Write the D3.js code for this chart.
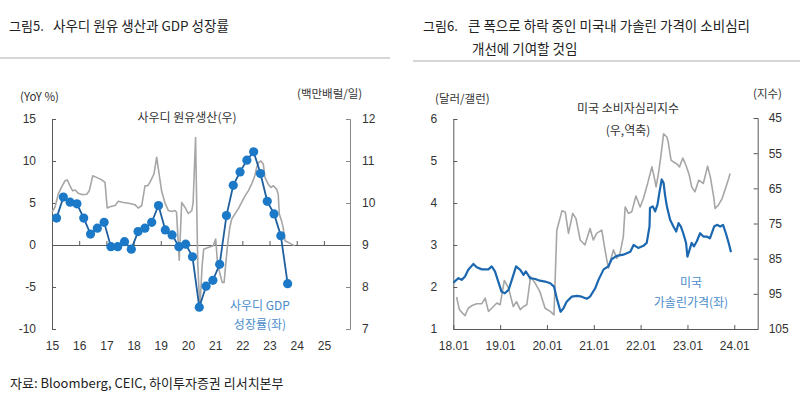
<!DOCTYPE html>
<html>
<head>
<meta charset="utf-8">
<script src="https://cdn.jsdelivr.net/npm/d3@7"></script>
<style>
  html, body { margin: 0; padding: 0; background: #fff; }
  svg { display: block; font-family: "Noto Sans CJK KR", "Noto Sans", sans-serif; }
  .tick text { fill: #333; font-size: 12px; }
</style>
</head>
<body>
<svg id="chart" width="800" height="397"></svg>
<script>
// ─── Fig 5: Saudi GDP growth (quarterly, left) vs crude production (right) ────
const gdpQuarters = [
  "2015Q1","2015Q2","2015Q3","2015Q4","2016Q1","2016Q2","2016Q3","2016Q4",
  "2017Q1","2017Q2","2017Q3","2017Q4","2018Q1","2018Q2","2018Q3","2018Q4",
  "2019Q1","2019Q2","2019Q3","2019Q4","2020Q1","2020Q2","2020Q3","2020Q4",
  "2021Q1","2021Q2","2021Q3","2021Q4","2022Q1","2022Q2","2022Q3","2022Q4",
  "2023Q1","2023Q2","2023Q3"
];
const gdpGrowth = [
  3.2, 5.7, 5.1, 4.9, 3.2, 1.3, 2.0, 2.7,
  -0.2, -0.2, 0.4, -0.5, 1.6, 2.0, 2.7, 4.7,
  1.8, 1.2, -0.2, 0.1, -1.4, -7.4, -4.9, -4.2,
  -2.3, 3.5, 7.1, 8.7, 10.1, 11.1, 8.5, 5.2,
  3.7, 1.1, -4.6
];

// crude production, million bbl/day (time in fractional years)
const prodTime = [
  2015.00, 2015.11, 2015.23, 2015.36, 2015.48, 2015.56, 2015.66, 2015.76, 2015.85, 2015.97,
  2016.09, 2016.28, 2016.37, 2016.50, 2016.64, 2016.83, 2016.95, 2017.03, 2017.13, 2017.32,
  2017.44, 2017.62, 2017.87, 2018.05, 2018.17, 2018.30, 2018.42, 2018.52, 2018.60, 2018.75,
  2018.85, 2018.94, 2019.03, 2019.15, 2019.28, 2019.40, 2019.52, 2019.58, 2019.68, 2019.77,
  2019.89, 2020.01, 2020.14, 2020.19, 2020.28, 2020.36, 2020.44, 2020.52, 2020.58, 2020.69,
  2020.93, 2021.02, 2021.09, 2021.18, 2021.26, 2021.33, 2021.39, 2021.46, 2021.54, 2021.61,
  2021.73, 2021.85, 2021.97, 2022.10, 2022.22, 2022.34, 2022.46, 2022.53, 2022.61, 2022.68,
  2022.77, 2022.83, 2022.95, 2023.05, 2023.14, 2023.26, 2023.32, 2023.36, 2023.44, 2023.50,
  2023.57, 2023.81, 2023.93
];
const prodValue = [
  9.78, 9.90, 10.21, 10.39, 10.53, 10.55, 10.41, 10.29, 10.31, 10.23,
  10.20, 10.21, 10.29, 10.65, 10.61, 10.55, 10.49, 9.88, 9.91, 9.94,
  10.04, 10.01, 9.99, 9.96, 9.88, 9.94, 10.41, 10.41, 10.49, 10.69,
  11.09, 10.69, 10.29, 10.01, 9.82, 9.80, 9.82, 9.78, 8.64, 10.01,
  9.90, 9.75, 9.82, 10.01, 11.56, 8.55, 7.50, 8.50, 8.90, 8.93,
  8.98, 9.14, 8.55, 8.31, 8.11, 8.11, 8.55, 9.02, 9.42, 9.62,
  9.74, 9.86, 10.01, 10.17, 10.29, 10.45, 10.65, 10.85, 10.97, 11.00,
  10.93, 10.61, 10.45, 10.37, 10.41, 10.33, 10.21, 9.74, 9.58, 9.42,
  9.10, 9.02, 8.98
];

const leftYears = [2015, 2016, 2017, 2018, 2019, 2020, 2021, 2022, 2023, 2024, 2025];
const leftTicksL = [-10, -5, 0, 5, 10, 15];
const leftTicksR = [7, 8, 9, 10, 11, 12];

// ─── Fig 6: US gasoline price (left) vs consumer sentiment (right, inverted) ──
const gasTime = [
  2018.00, 2018.11, 2018.18, 2018.25, 2018.32, 2018.43, 2018.50, 2018.61, 2018.75, 2018.82,
  2018.89, 2018.96, 2019.03, 2019.10, 2019.18, 2019.25, 2019.34, 2019.43, 2019.50, 2019.55,
  2019.64, 2019.75, 2019.85, 2019.96, 2020.07, 2020.15, 2020.21, 2020.29, 2020.35, 2020.42,
  2020.53, 2020.64, 2020.74, 2020.85, 2020.92, 2021.03, 2021.10, 2021.21, 2021.31, 2021.38,
  2021.49, 2021.63, 2021.78, 2021.85, 2021.95, 2022.06, 2022.13, 2022.19, 2022.20, 2022.26,
  2022.31, 2022.36, 2022.40, 2022.45, 2022.49, 2022.52, 2022.56, 2022.63, 2022.70, 2022.76,
  2022.81, 2022.86, 2022.91, 2022.97, 2023.00, 2023.09, 2023.14, 2023.20, 2023.27, 2023.34,
  2023.41, 2023.48, 2023.57, 2023.63, 2023.70, 2023.76, 2023.82, 2023.88, 2023.93
];
const gasPrice = [
  2.10, 2.21, 2.17, 2.25, 2.41, 2.55, 2.47, 2.42, 2.42, 2.49,
  2.37, 2.13, 1.89, 1.85, 1.93, 2.17, 2.49, 2.41, 2.29, 2.37,
  2.21, 2.19, 2.15, 2.13, 2.09, 2.01, 1.73, 1.41, 1.49, 1.65,
  1.77, 1.79, 1.77, 1.72, 1.77, 1.97, 2.17, 2.42, 2.49, 2.66,
  2.74, 2.77, 2.84, 3.00, 2.93, 2.98, 3.05, 3.44, 3.88, 3.92,
  3.80, 3.96, 4.24, 4.56, 4.48, 4.20, 3.92, 3.60, 3.44, 3.32,
  3.52, 3.44, 3.28, 3.05, 2.72, 3.05, 2.97, 3.09, 3.28, 3.20,
  3.20, 3.16, 3.44, 3.48, 3.44, 3.48, 3.28, 3.05, 2.83
];

const sentTime = [
  2018.07, 2018.13, 2018.20, 2018.25, 2018.32, 2018.39, 2018.50, 2018.61, 2018.68, 2018.75,
  2018.82, 2018.93, 2019.00, 2019.09, 2019.18, 2019.28, 2019.35, 2019.43, 2019.50, 2019.57,
  2019.65, 2019.75, 2019.85, 2019.96, 2020.07, 2020.15, 2020.21, 2020.32, 2020.39, 2020.46,
  2020.55, 2020.62, 2020.71, 2020.81, 2020.92, 2020.99, 2021.06, 2021.17, 2021.24, 2021.31,
  2021.42, 2021.49, 2021.56, 2021.63, 2021.67, 2021.74, 2021.81, 2021.90, 2021.99, 2022.06,
  2022.15, 2022.24, 2022.29, 2022.33, 2022.38, 2022.43, 2022.49, 2022.56, 2022.59, 2022.65,
  2022.70, 2022.77, 2022.83, 2022.90, 2022.97, 2023.04, 2023.09, 2023.16, 2023.24, 2023.34,
  2023.43, 2023.49, 2023.56, 2023.59, 2023.66, 2023.74, 2023.81, 2023.88, 2023.91
];
const sentIndex = [
  95.9, 99.5, 100.5, 101.2, 99.1, 98.4, 97.8, 97.8, 96.2, 100.0,
  99.1, 97.6, 98.1, 91.2, 93.4, 98.6, 97.2, 99.5, 98.6, 98.1,
  90.1, 92.0, 94.4, 99.1, 100.0, 101.0, 76.9, 71.4, 71.7, 77.8,
  72.1, 73.6, 79.7, 81.1, 76.4, 79.7, 77.8, 76.9, 82.5, 87.7,
  82.5, 84.9, 83.5, 78.8, 70.3, 72.1, 71.7, 67.2, 70.3, 67.9,
  63.6, 58.9, 61.8, 64.6, 60.8, 56.1, 49.5, 50.4, 51.9, 57.0,
  57.5, 58.0, 58.9, 56.4, 58.5, 61.3, 64.6, 66.0, 62.7, 63.6,
  58.7, 61.8, 67.4, 70.7, 69.8, 67.9, 65.1, 62.2, 60.8
];

const rightYears = [2018, 2019, 2020, 2021, 2022, 2023, 2024];
const rightTicksL = [1, 2, 3, 4, 5, 6];
const rightTicksR = [45, 55, 65, 75, 85, 95, 105];

// ─── drawing ─────────────────────────────────────────────────────────────────
const svg = d3.select("#chart");
const GRAY = "#a6a6a6";
const AXIS = "#595959";
const BLUE_LINE = "#1f5f9e";
const BLUE_DOT = "#1b79c7";
const BLUE_TEXT = "#4a8ccb";
const plain = (d) => String(d);

function qTime(q) {
  const yr = +q.slice(0, 4), n = +q.slice(5);
  return yr + (n - 1) / 4 + 1 / 6;
}

function styleAxis(g, color) {
  g.select(".domain").attr("stroke", color);
  g.selectAll(".tick line").attr("stroke", color);
}

// titles + rules
svg.append("text").attr("x", 9).attr("y", 31).attr("font-size", 13).attr("fill", "#222").text("그림5.");
svg.append("text").attr("x", 53).attr("y", 31).attr("font-size", 13.5).attr("fill", "#222").text("사우디 원유 생산과 GDP 성장률");
svg.append("line").attr("x1", 0).attr("x2", 390).attr("y1", 58).attr("y2", 58).attr("stroke", "#c8c8c8").attr("stroke-width", 1.5);

svg.append("text").attr("x", 423).attr("y", 31).attr("font-size", 13).attr("fill", "#222").text("그림6.");
svg.append("text").attr("x", 468).attr("y", 31).attr("font-size", 13.5).attr("fill", "#222").text("큰 폭으로 하락 중인 미국내 가솔린 가격이 소비심리");
svg.append("text").attr("x", 472).attr("y", 54).attr("font-size", 13.5).attr("fill", "#222").text("개선에 기여할 것임");
svg.append("line").attr("x1", 413).attr("x2", 800).attr("y1", 61).attr("y2", 61).attr("stroke", "#c8c8c8").attr("stroke-width", 1.5);

svg.append("text").attr("x", 10).attr("y", 388).attr("font-size", 13).attr("fill", "#222")
  .text("자료: Bloomberg, CEIC, 하이투자증권 리서치본부");

// ── left chart
{
  const x = d3.scaleLinear().domain([2015, 2025.96]).range([52, 350]);
  const yL = d3.scaleLinear().domain([-10, 15]).range([329, 119]);
  const yR = d3.scaleLinear().domain([7, 12]).range([329, 119]);

  const gl = svg.append("g").attr("transform", "translate(52,0)")
    .call(d3.axisLeft(yL).tickValues(leftTicksL).tickFormat(plain).tickSize(-4).tickSizeOuter(-4).tickPadding(16));
  styleAxis(gl, AXIS);

  const gr = svg.append("g").attr("transform", "translate(350,0)")
    .call(d3.axisRight(yR).tickValues(leftTicksR).tickFormat(plain).tickSize(-4).tickSizeOuter(-4).tickPadding(12));
  styleAxis(gr, "#8a8a8a");

  const gx = svg.append("g").attr("transform", `translate(0,${yL(0)})`)
    .call(d3.axisBottom(x).tickValues(leftYears).tickFormat((d) => String(d % 100)).tickSize(-4).tickSizeOuter(0));
  styleAxis(gx, AXIS);
  gx.selectAll(".tick text").attr("y", 329 - yL(0) + 12);

  const prod = prodTime.map((t, i) => ({ t, v: prodValue[i] }));
  svg.append("path").datum(prod).attr("fill", "none").attr("stroke", GRAY).attr("stroke-width", 1.6)
    .attr("stroke-linejoin", "round")
    .attr("d", d3.line().x((d) => x(d.t)).y((d) => yR(d.v)));

  const gdp = gdpQuarters.map((q, i) => ({ t: qTime(q), v: gdpGrowth[i] }));
  svg.append("path").datum(gdp).attr("fill", "none").attr("stroke", BLUE_LINE).attr("stroke-width", 1.8)
    .attr("d", d3.line().x((d) => x(d.t)).y((d) => yL(d.v)));
  svg.append("g").selectAll("circle").data(gdp).join("circle")
    .attr("cx", (d) => x(d.t)).attr("cy", (d) => yL(d.v)).attr("r", 4.6).attr("fill", BLUE_DOT);

  svg.append("text").attr("x", 20).attr("y", 101).attr("font-size", 11.5).attr("fill", "#333").text("(YoY %)");
  svg.append("text").attr("x", 297).attr("y", 98).attr("font-size", 11.5).attr("fill", "#333").text("(백만배럴/일)");
  svg.append("text").attr("x", 187).attr("y", 122).attr("text-anchor", "middle").attr("font-size", 12).attr("fill", "#333").text("사우디 원유생산(우)");
  svg.append("text").attr("x", 260).attr("y", 310).attr("text-anchor", "middle").attr("font-size", 12).attr("fill", BLUE_TEXT).text("사우디 GDP");
  svg.append("text").attr("x", 260).attr("y", 329).attr("text-anchor", "middle").attr("font-size", 12).attr("fill", BLUE_TEXT).text("성장률(좌)");
}

// ── right chart
{
  const x = d3.scaleLinear().domain([2018, 2024.5]).range([453.3, 757.7]);
  const yG = d3.scaleLinear().domain([1, 6]).range([329, 119]);
  const yS = d3.scaleLinear().domain([105, 45]).range([329, 118]);

  const gl = svg.append("g").attr("transform", "translate(453.3,0)")
    .call(d3.axisLeft(yG).tickValues(rightTicksL).tickFormat(plain).tickSize(-4).tickSizeOuter(-4).tickPadding(16));
  styleAxis(gl, AXIS);

  const gr = svg.append("g").attr("transform", "translate(757.7,0)")
    .call(d3.axisRight(yS).tickValues(rightTicksR).tickFormat(plain).tickSize(-4).tickSizeOuter(-4).tickPadding(11));
  styleAxis(gr, AXIS);

  const gx = svg.append("g").attr("transform", "translate(0,329)")
    .call(d3.axisBottom(x).tickValues(rightYears).tickFormat((d) => `${d % 100}.01`).tickSize(-4).tickSizeOuter(0).tickPadding(12));
  styleAxis(gx, AXIS);

  const sent = sentTime.map((t, i) => ({ t, v: sentIndex[i] }));
  svg.append("path").datum(sent).attr("fill", "none").attr("stroke", GRAY).attr("stroke-width", 1.6)
    .attr("stroke-linejoin", "round")
    .attr("d", d3.line().x((d) => x(d.t)).y((d) => yS(d.v)));

  const gas = gasTime.map((t, i) => ({ t, v: gasPrice[i] }));
  svg.append("path").datum(gas).attr("fill", "none").attr("stroke", "#1c68b0").attr("stroke-width", 2.2)
    .attr("stroke-linejoin", "round")
    .attr("d", d3.line().x((d) => x(d.t)).y((d) => yG(d.v)));

  svg.append("text").attr("x", 435).attr("y", 103).attr("font-size", 11.5).attr("fill", "#333").text("(달러/갤런)");
  svg.append("text").attr("x", 753).attr("y", 98).attr("font-size", 11.5).attr("fill", "#333").text("(지수)");
  svg.append("text").attr("x", 628).attr("y", 113).attr("text-anchor", "middle").attr("font-size", 12).attr("fill", "#333").text("미국 소비자심리지수");
  svg.append("text").attr("x", 628).attr("y", 135).attr("text-anchor", "middle").attr("font-size", 12).attr("fill", "#333").text("(우,역축)");
  svg.append("text").attr("x", 691).attr("y", 287).attr("text-anchor", "middle").attr("font-size", 12).attr("fill", BLUE_TEXT).text("미국");
  svg.append("text").attr("x", 691).attr("y", 307).attr("text-anchor", "middle").attr("font-size", 12).attr("fill", BLUE_TEXT).text("가솔린가격(좌)");
}
</script>
</body>
</html>
